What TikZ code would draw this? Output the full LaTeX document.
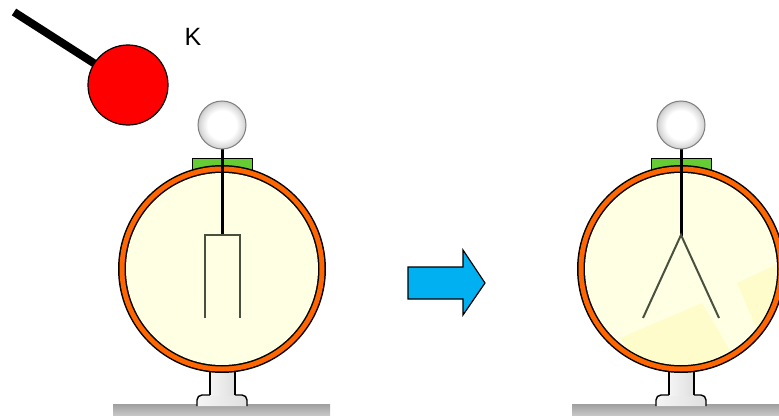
\documentclass[tikz,border=0pt]{standalone}
\usepackage{fontspec}
\setmainfont{Liberation Sans}
\usetikzlibrary{calc}
\definecolor{ringorange}{RGB}{255,102,0}
\definecolor{glasscream}{RGB}{255,255,228}
\definecolor{capgreen}{RGB}{102,204,51}
\definecolor{arrowblue}{RGB}{0,176,240}
\definecolor{leafgray}{RGB}{72,80,62}

% white knob with a grey rim
\pgfdeclareradialshading{knobshade}{\pgfpoint{0bp}{0bp}}{%
    color(0bp)=(white); color(15bp)=(white); color(23bp)=(gray!30);
    color(25bp)=(gray!45); color(50bp)=(gray!45)}

\tikzset{
    ground/.style={top color=gray!75, bottom color=gray!45, draw=none},
    stand/.style={draw=black, line width=1.4pt, left color=gray!8, right color=gray!25},
    knob/.style={draw=gray, line width=1pt, shading=knobshade},
    rod/.style={line width=3pt, black},
    leaf/.style={line width=2pt, leafgray, line cap=butt},
}

% one glass housing with stand and cap
\newcommand{\housing}[1]{%
    \begin{scope}[shift={(#1,0)}]
        \fill[ground] (-109,404) rectangle (108,415);
        \draw[stand, rounded corners=5pt] (-25,406) -- (-25,395) -- (25,395) -- (25,406);
        \fill[left color=gray!8, right color=gray!25] (-12,370) rectangle (13,395);
        \draw[black, line width=1.6pt] (-12,370) -- (-12,395) (13,370) -- (13,395);
        \draw[black, fill=capgreen, line width=1pt] (-30,158) rectangle (30,172);
        \fill[black] (0,269) circle (104);
        \fill[ringorange] (0,269) circle (102.5);
        \fill[black] (0,269) circle (97.5);
        \fill[glasscream] (0,269) circle (96);
    \end{scope}}

\begin{document}
\begin{tikzpicture}[x=1pt, y=-1pt]
    \useasboundingbox (0,0) rectangle (779,420);
    \clip (0,0) rectangle (779,420);

    % charged ball on its handle
    \draw[line width=8pt] (14,12) -- (128,85);
    \draw[fill=red, line width=1.2pt] (128,85) circle (40);
    \node[anchor=base west, font=\fontsize{25}{30}\selectfont] (k) at (181,46) {K};

    % before: leaves hang together
    \housing{222}
    \draw[rod] (222,148) -- (222,236);
    \draw[leaf] (205,318) -- (205,235) -- (240,235) -- (240,318);
    \shade[knob] (222,125) circle (24);

    % arrow
    \draw[fill=arrowblue, line width=1.2pt]
        (408,267) -- (463,267) -- (463,250) -- (485,283) -- (463,315) -- (463,299) -- (408,299) -- cycle;

    % after: leaves spread apart
    \housing{681}
    \begin{scope}
        \clip (681,269) circle (96);
        \fill[yellow!30, opacity=0.5] (620,338) -- (702,303) -- (730,350) -- (660,390) -- cycle;
        \fill[yellow!30, opacity=0.5] (737,283) -- (790,258) -- (790,330) -- (755,325) -- cycle;
    \end{scope}
    \draw[rod] (681,148) -- (681,236);
    \draw[leaf] (643,318) -- (681,235) -- (719,318);
    \shade[knob] (681,125) circle (24);
\end{tikzpicture}
\end{document}
